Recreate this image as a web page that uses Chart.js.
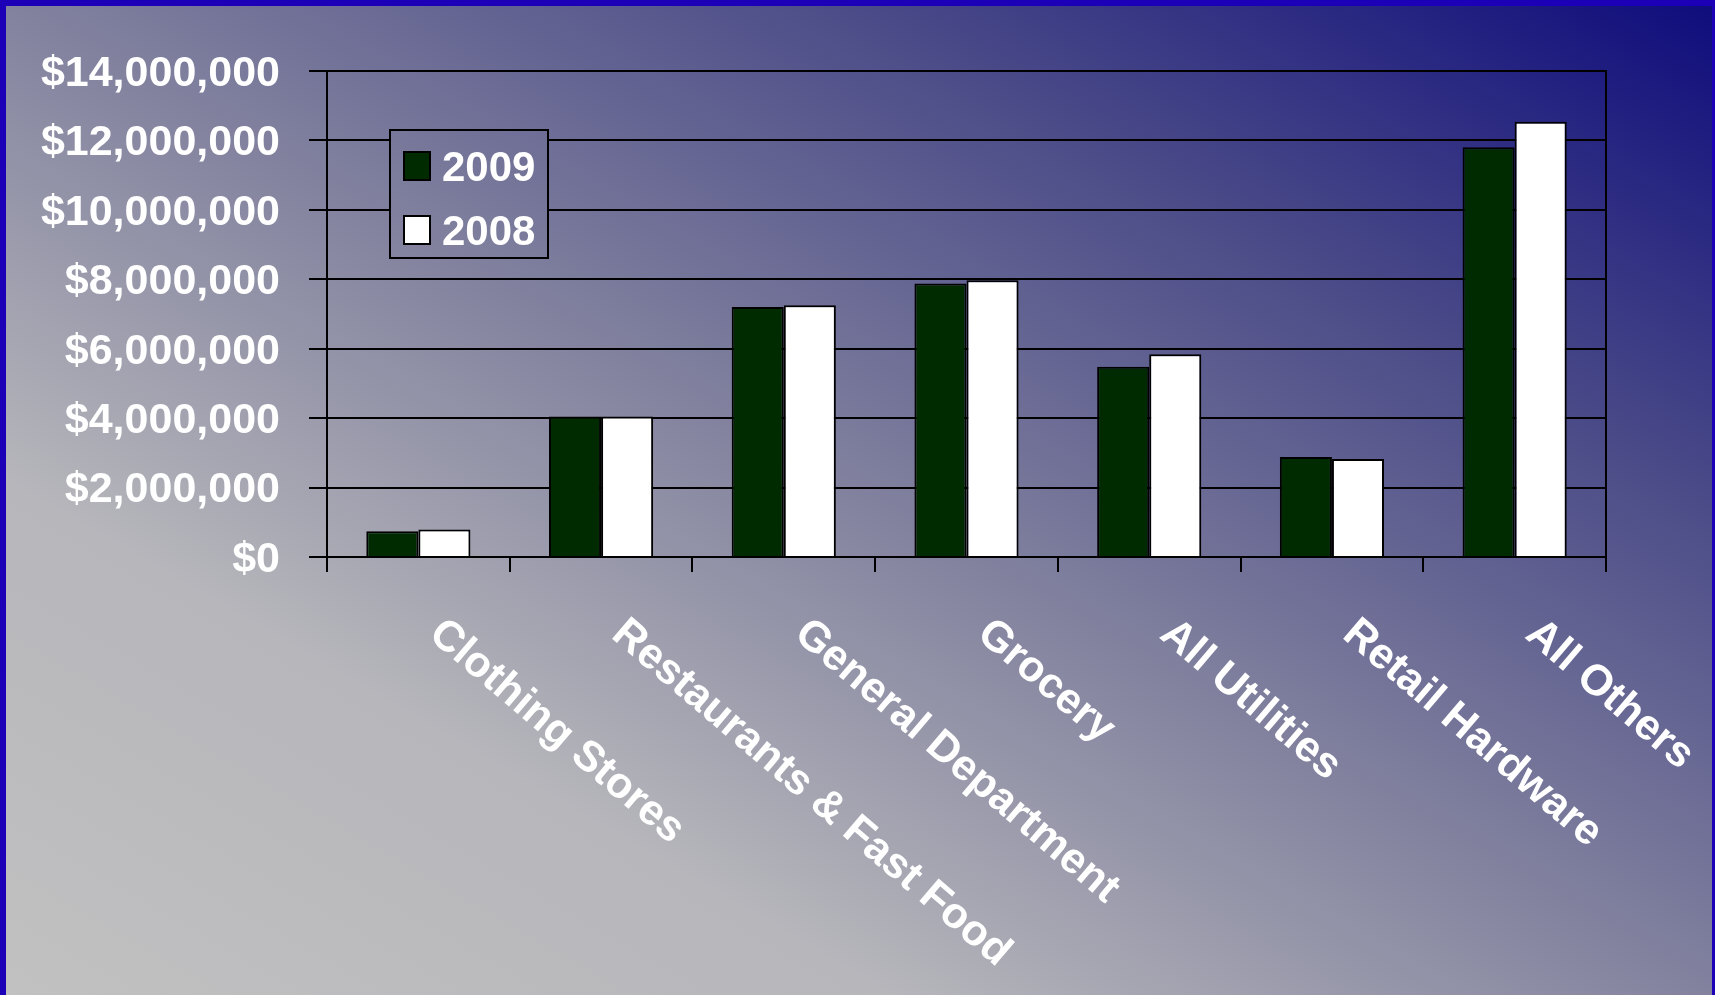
<!DOCTYPE html>
<html>
<head>
<meta charset="utf-8">
<script src="https://cdn.jsdelivr.net/npm/chart.js@4.4.1/dist/chart.umd.min.js"></script>
<style>
  html, body { margin: 0; padding: 0; overflow: hidden; }
  #wrap { position: relative; width: 1715px; height: 995px; }
  #frame {
    position: absolute; left: 0; top: 0; width: 1715px; height: 995px;
    box-sizing: border-box; pointer-events: none;
    border-left: 6px solid #1c00b8; border-top: 6px solid #1c00b8; border-right: 3px solid #1c00b8;
  }
  canvas { position: absolute; left: 0; top: 0; }
</style>
</head>
<body>
<div id="wrap">
  <canvas id="salesChart" width="1715" height="995"></canvas>
  <div id="frame"></div>
</div>
<script>
const categories = ['Clothing Stores', 'Restaurants & Fast Food', 'General Department', 'Grocery', 'All Utilities', 'Retail Hardware', 'All Others'];
const sales2009 = [740000, 4050000, 7200000, 7880000, 5480000, 2880000, 11800000];
const sales2008 = [790000, 4050000, 7250000, 7970000, 5840000, 2820000, 12540000];
const seriesNames = ['2009', '2008'];
const yMax = 14000000;
const yStep = 2000000;

const FONT = "'Liberation Sans', Arial, sans-serif";

function makeBackground(ctx) {
    // diagonal gradient, silver bottom-left to navy top-right
    const g = ctx.createLinearGradient(425, 1242, 1289, -247);
    g.addColorStop(0, '#c1c1c1');
    g.addColorStop(0.26, '#b6b6bb');
    g.addColorStop(0.5, '#82829f');
    g.addColorStop(0.75, '#4a4a88');
    g.addColorStop(1, '#0e0c7c');
    return g;
}

const backgroundPlugin = {
    id: 'slideBackground',
    beforeDraw(chart) {
        const ctx = chart.ctx;
        ctx.save();
        ctx.fillStyle = makeBackground(ctx);
        ctx.fillRect(0, 0, chart.width, chart.height);
        ctx.restore();
    }
};

const extrasPlugin = {
    id: 'extras',
    afterDraw(chart) {
        const ctx = chart.ctx;
        const area = chart.chartArea;
        const xScale = chart.scales.x;

        // right edge of the plot box
        ctx.save();
        ctx.strokeStyle = '#000';
        ctx.lineWidth = 2;
        ctx.beginPath();
        ctx.moveTo(area.right, area.top - 1);
        ctx.lineTo(area.right, area.bottom + 1);
        ctx.stroke();
        ctx.restore();

        // slanted category labels
        ctx.save();
        ctx.fillStyle = '#fff';
        ctx.font = 'bold 43px ' + FONT;
        ctx.textAlign = 'left';
        ctx.textBaseline = 'alphabetic';
        chart.data.labels.forEach((label, i) => {
            const x = xScale.getPixelForValue(i);
            ctx.save();
            ctx.translate(x + 9, area.bottom + 80);
            ctx.rotate(40.5 * Math.PI / 180);
            ctx.fillText(label, 0, 0);
            ctx.restore();
        });
        ctx.restore();

        // legend box
        const lx = 390, ly = 130, lw = 158, lh = 128;
        ctx.save();
        ctx.fillStyle = makeBackground(ctx);
        ctx.fillRect(lx, ly, lw, lh);
        ctx.strokeStyle = '#000';
        ctx.lineWidth = 2;
        ctx.strokeRect(lx, ly, lw, lh);
        ctx.font = 'bold 42px ' + FONT;
        ctx.textBaseline = 'middle';
        ctx.textAlign = 'left';
        chart.data.datasets.forEach((ds, i) => {
            const sy = 152 + i * 64;
            ctx.fillStyle = ds.backgroundColor;
            ctx.fillRect(404, sy, 26, 28);
            ctx.strokeRect(404, sy, 26, 28);
            ctx.fillStyle = '#fff';
            ctx.fillText(ds.label, 442, sy + 17);
        });
        ctx.restore();
    }
};

new Chart(document.getElementById('salesChart'), {
    type: 'bar',
    data: {
        labels: categories,
        datasets: [
            {
                label: seriesNames[0],
                data: sales2009,
                backgroundColor: '#002b00',
                borderColor: '#000',
                borderWidth: 2,
                borderSkipped: 'start'
            },
            {
                label: seriesNames[1],
                data: sales2008,
                backgroundColor: '#ffffff',
                borderColor: '#000',
                borderWidth: 2,
                borderSkipped: 'start'
            }
        ]
    },
    options: {
        responsive: false,
        animation: false,
        categoryPercentage: 0.57,
        barPercentage: 1.0,
        layout: { padding: { left: 0, right: 109, top: 71, bottom: 0 } },
        plugins: {
            legend: { display: false },
            tooltip: { enabled: false }
        },
        scales: {
            x: {
                offset: true,
                grid: { offset: true, drawOnChartArea: false, color: '#000', lineWidth: 2, tickLength: 15 },
                border: { color: '#000', width: 2 },
                ticks: { display: false },
                afterFit(scale) { scale.height = 995 - 557; }
            },
            y: {
                min: 0,
                max: yMax,
                grid: { color: '#000', lineWidth: 2, tickLength: 18 },
                border: { color: '#000', width: 2 },
                ticks: {
                    stepSize: yStep,
                    color: '#fff',
                    padding: 29,
                    labelOffset: 3,
                    font: { family: FONT, size: 43, weight: 'bold' },
                    callback: (v) => '$' + Number(v).toLocaleString('en-US')
                },
                afterFit(scale) { scale.width = 327; }
            }
        }
    },
    plugins: [backgroundPlugin, extrasPlugin]
});
</script>
</body>
</html>
